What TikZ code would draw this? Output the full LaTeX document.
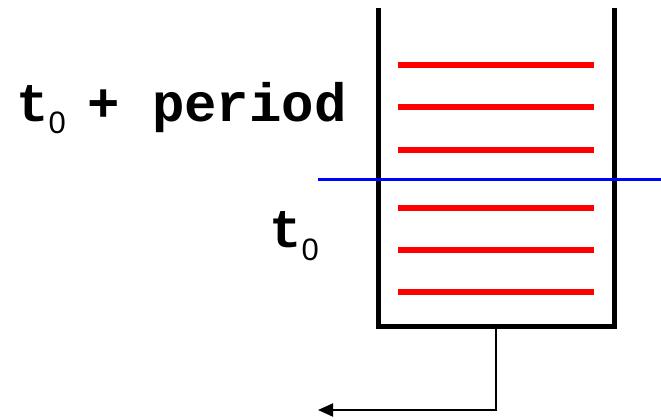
\documentclass[tikz,border=0pt]{standalone}
\usepackage{fontspec}
\setmonofont{Liberation Mono}
\setsansfont{Liberation Sans}
\usetikzlibrary{arrows.meta,positioning}
\definecolor{Slot}{HTML}{FF0000}
\definecolor{Mark}{HTML}{0000FF}

\newcommand{\tsub}{t\raisebox{-13pt}{\sffamily\mdseries\fontsize{31}{33}\selectfont 0}}
\begin{document}
\begin{tikzpicture}[x=1pt,y=-1pt,every node/.style={font=\ttfamily\bfseries\fontsize{54}{60}\selectfont,inner sep=0pt},wall/.style={line width=5pt},slot/.style={draw=Slot,line width=6pt},periodline/.style={draw=Mark,line width=3pt},outflow/.style={line width=2pt,arrows={-Triangle[length=15pt,width=13pt]}}]
\useasboundingbox (0,0) rectangle (661,420);
\draw[wall] (378,8)--(378,326)--(614,326)--(614,8);
\foreach \y in {65,107,150,208,250,292} \draw[slot] (398,\y)--(594,\y);
\draw[periodline] (318,179)--(661,179);
\node[anchor=base west](upper) at (16,121){\tsub\kern-11pt\ + period};
\node[anchor=base west](lower) at (269,247){\tsub};
\coordinate (out) at (496,326);
\coordinate (sink) at (318,410);
\draw[outflow] (out)|-(sink);
\end{tikzpicture}
\end{document}
